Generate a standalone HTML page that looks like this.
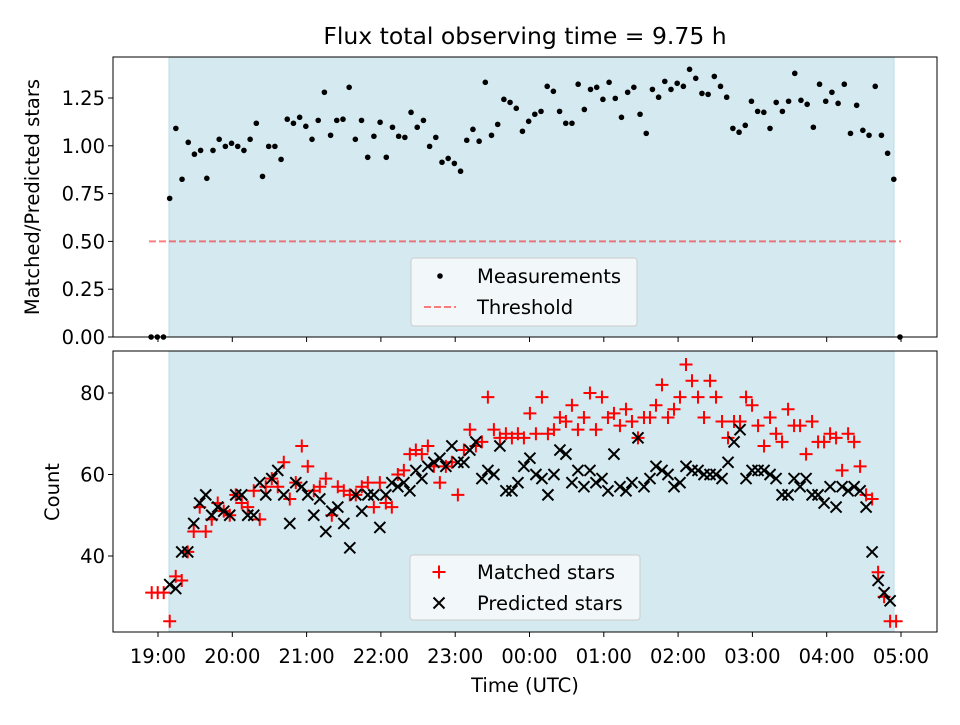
<!DOCTYPE html>
<html><head><meta charset="utf-8"><style>
body{margin:0;background:#fff}
svg{font-family:"DejaVu Sans","Liberation Sans",sans-serif}
</style></head><body>
<svg id="c" width="960" height="720" viewBox="0 0 960 720" xmlns="http://www.w3.org/2000/svg"></svg>
<script>
// time grid: hours after 19:00 UTC
const ratioStart = -0.0929;
const ratioStep = 0.0833;
const countStart = -0.0848;
const countStep = 0.0808;
const ratioValues = [0,0,0,
0.725,1.091,0.825,1.018,0.956,0.976,0.830,0.976,1.034,0.997,1.013,0.997,0.976,1.034,1.118,0.840,0.997,0.997,0.929,1.139,
1.118,1.149,1.102,1.034,1.133,1.280,1.055,1.133,1.139,1.306,1.034,1.133,0.940,1.050,1.123,0.940,1.097,1.050,1.044,1.175,
1.097,1.133,0.997,1.044,0.914,0.934,0.908,0.867,1.029,1.086,1.024,1.332,1.055,1.112,1.243,1.227,1.196,1.076,1.128,
1.165,1.180,1.311,1.285,1.180,1.118,1.118,1.322,1.190,1.295,1.306,1.243,1.332,1.248,1.149,1.280,1.306,1.165,1.065,1.295,
1.254,1.337,1.295,1.327,1.311,1.400,1.353,1.274,1.269,1.363,1.311,1.254,1.091,1.071,1.107,1.233,1.180,1.175,1.091,1.227,
1.180,1.233,1.379,1.238,1.217,1.097,1.322,1.233,1.280,1.222,1.322,1.065,1.212,1.081,1.055,1.311,1.055,0.961,0.825,0];
const matchedValues = [31,31,31,
24,35,34,41,46,52,46,49,53,51,50,55,53,52,56,49,57,59,57,63,54,58,67,62,56,57,59,50,57,56,55,55,57,58,52,58,53,52,60,61,
65,66,65,67,62,58,62,63,55,66,71,67,68,79,71,69,70,69,70,69,75,70,79,70,71,74,73,77,71,74,80,71,79,74,75,72,76,73,69,74,
74,77,82,74,76,79,87,83,79,74,83,79,73,69,73,73,79,77,72,67,74,70,68,76,72,72,65,73,68,68,70,69,61,70,68,62,55,54,36,30,24,24];
const predictedValues = [null,null,null,
33,32,41,41,48,53,55,50,52,51,50,55,55,50,50,58,55,59,61,55,48,58,57,55,50,54,46,51,52,48,42,55,51,55,55,47,55,58,57,58,
56,61,59,62,63,64,62,67,63,63,66,68,59,61,60,67,56,56,58,62,64,60,59,55,60,66,65,58,61,57,61,58,59,56,65,57,56,58,69,57,
59,62,61,60,57,58,62,61,61,60,60,60,59,63,68,71,59,61,61,61,60,59,55,55,59,57,59,55,55,53,57,52,57,56,57,56,52,41,34,31,29,null];
const hourLabels = ["19:00","20:00","21:00","22:00","23:00","00:00","01:00","02:00","03:00","04:00","05:00"];
const ratioTicks = [0,0.25,0.5,0.75,1.0,1.25];
const countTicks = [40,60,80];
const threshold = 0.5;

const NS="http://www.w3.org/2000/svg", svg=document.getElementById('c');
function el(tag,attrs,parent){const e=document.createElementNS(NS,tag);for(const k in attrs)e.setAttribute(k,attrs[k]);(parent||svg).appendChild(e);return e;}
const L=113,R=937,T1=57,B1=337,T2=351,B2=632;
const xs=h=>158+h*74.3;
const y1=v=>337-v*191.2;
const y2=v=>556-(v-40)*4.075;
const FS=19.5;

let t=el('text',{x:525,y:44,'text-anchor':'middle','font-size':23.5});t.textContent="Flux total observing time = 9.75 h";


function panel(top,bot,name){
  const g=el('g',{});
  
  el('rect',{x:L,y:top,width:R-L,height:bot-top,fill:'#fff'},g);
  const s=el('rect',{x:169,y:top,width:725,height:bot-top,fill:'#d4eaf0',stroke:'#b9dde8','stroke-width':1},g);
  
  return g;
}
const g1=panel(T1,B1,'ratio-panel'), g2=panel(T2,B2,'count-panel');

const th=el('line',{x1:149,x2:901,y1:y1(threshold),y2:y1(threshold),stroke:'#ff0000','stroke-opacity':0.5,'stroke-width':2,'stroke-dasharray':'7,3'},g1);


ratioValues.forEach((v,i)=>{
  const x=xs(ratioStart+i*ratioStep); const c=el('circle',{cx:x,cy:y1(v),r:2.8,fill:'#000'},g1);
  
  
});
function plus(x,y,p){el('path',{d:`M${x-6.5},${y}H${x+6.5}M${x},${y-6.5}V${y+6.5}`,stroke:'#ff0000','stroke-width':2,fill:'none'},p);}
function cross(x,y,p){el('path',{d:`M${x-5.5},${y-5.5}L${x+5.5},${y+5.5}M${x-5.5},${y+5.5}L${x+5.5},${y-5.5}`,stroke:'#000','stroke-width':2,fill:'none'},p);}
matchedValues.forEach((v,i)=>{
  if(v==null)return;
  const g=el('g',{},g2);
  
  
  plus(xs(countStart+i*countStep),y2(v),g);
});
predictedValues.forEach((v,i)=>{
  if(v==null)return;
  const g=el('g',{},g2);
  
  
  cross(xs(countStart+i*countStep),y2(v),g);
});

el('rect',{x:L,y:T1,width:R-L,height:B1-T1,fill:'none',stroke:'#000','stroke-width':1});
el('rect',{x:L,y:T2,width:R-L,height:B2-T2,fill:'none',stroke:'#000','stroke-width':1});

hourLabels.forEach((lab,i)=>{
  const x=xs(i);
  el('line',{x1:x,x2:x,y1:B1,y2:B1+5,stroke:'#000'});
  el('line',{x1:x,x2:x,y1:B2,y2:B2+5,stroke:'#000'});
  const tx=el('text',{x:x,y:663,'text-anchor':'middle','font-size':FS});tx.textContent=lab;
  
});
ratioTicks.forEach(v=>{
  const y=y1(v);el('line',{x1:L-5,x2:L,y1:y,y2:y,stroke:'#000'});
  const tx=el('text',{x:L-8,y:y+7,'text-anchor':'end','font-size':FS});tx.textContent=v.toFixed(2);
  
});
countTicks.forEach(v=>{
  const y=y2(v);el('line',{x1:L-5,x2:L,y1:y,y2:y,stroke:'#000'});
  const tx=el('text',{x:L-8,y:y+7,'text-anchor':'end','font-size':FS});tx.textContent=v;
  
});
let a=el('text',{x:525,y:692,'text-anchor':'middle','font-size':FS});a.textContent="Time (UTC)";

a=el('text',{x:0,y:0,'text-anchor':'middle','font-size':FS,transform:'translate(39,197) rotate(-90)'});a.textContent="Matched/Predicted stars";

a=el('text',{x:0,y:0,'text-anchor':'middle','font-size':FS,transform:'translate(59,492) rotate(-90)'});a.textContent="Count";


let lg=el('g',{});
el('rect',{x:411,y:258,width:226,height:68,rx:3,fill:'#f7fafc','fill-opacity':0.85,stroke:'#ccc'},lg);
el('circle',{cx:440,cy:276,r:2.8,fill:'#000'},lg);
a=el('text',{x:477,y:283,'font-size':FS},lg);a.textContent="Measurements";
el('line',{x1:424,x2:456,y1:307,y2:307,stroke:'#ff0000','stroke-opacity':0.5,'stroke-width':2,'stroke-dasharray':'7,3'},lg);
a=el('text',{x:477,y:314,'font-size':FS},lg);a.textContent="Threshold";

lg=el('g',{});
el('rect',{x:410,y:555,width:230,height:65,rx:3,fill:'#f7fafc','fill-opacity':0.85,stroke:'#ccc'},lg);
plus(439,572,lg);
a=el('text',{x:477,y:579,'font-size':FS},lg);a.textContent="Matched stars";
cross(439,603,lg);
a=el('text',{x:477,y:610,'font-size':FS},lg);a.textContent="Predicted stars";
</script>
</body></html>
